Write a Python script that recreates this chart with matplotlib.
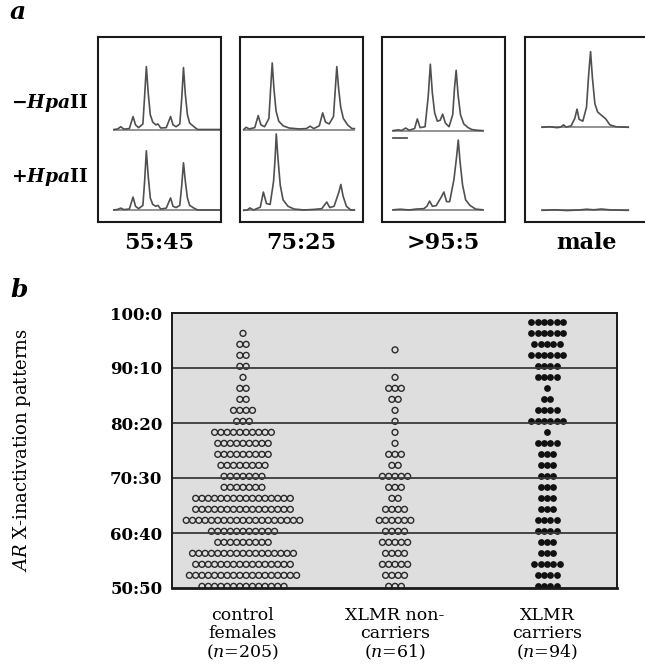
"""
X-inactivation figure: (a) AR methylation traces, (b) dot plot of X-inactivation patterns.
"""

import matplotlib
matplotlib.use("Agg")
import matplotlib.pyplot as plt

plt.rcParams["font.family"] = "DejaVu Serif"
plt.rcParams["mathtext.fontset"] = "dejavuserif"

W, H = 645, 670

# ---- panel a: traces (x: position along trace, y: signal, 0-100 box units)
BOX_LABELS = ["55:45", "75:25", ">95:5", "male"]

B1_TOP_X = [13, 16, 18.5, 21, 25.5, 28.5, 30.5, 33, 36.5, 37.9, 39.3, 40.8, 42.5, 44.5, 47, 48.7, 51,
            55.5, 59, 61, 63.5, 66.5, 68.1, 69.5, 71, 72.7, 74.5, 78, 81, 100]
B1_TOP_Y = [50, 50.3, 51.5, 50.2, 50.5, 57, 52.5, 51, 53, 68, 84, 70, 58, 54, 52.5, 53, 50.8,
            51, 57, 52.5, 51.5, 53, 67, 83.5, 69, 58, 53.5, 51.5, 50, 50]
B1_BOT_X = B1_TOP_X
B1_BOT_Y = [6.5, 6.8, 7.5, 6.7, 7, 13.5, 8.5, 7.2, 9, 22, 38.5, 25, 13, 9.5, 8.5, 9, 7,
            7.5, 13, 8.5, 7.8, 9, 20, 32, 22, 13, 9, 7.5, 6.5, 6.5]

B2_TOP_X = [3, 5, 7.5, 12, 14.8, 17, 20, 23.5, 24.9, 26.2, 27.6, 29.3, 31.5, 35, 40, 48, 54, 57, 60,
            64.5, 67.2, 69.5, 72.5, 76, 77.4, 78.7, 80.2, 81.9, 84, 87.5, 91, 93]
B2_TOP_Y = [50, 51.2, 50.3, 51, 57.5, 52.5, 51.5, 56, 72, 86, 72, 60, 54.5, 52, 50.8, 50.3, 50.5,
            51.8, 50.5, 52, 59, 54, 53, 57, 71, 84, 72, 62, 56, 52.5, 50.5, 50.5]
B2_BOT_X = [3, 6, 8, 11, 16.5, 19, 21.5, 24.5, 27.3, 28.5, 29.5, 30.8, 32.7, 35, 39, 44, 52, 60,
            66.5, 70.5, 73, 76.5, 80.3, 82, 83.8, 86.5, 90, 93]
B2_BOT_Y = [6.3, 6.5, 7.6, 6.5, 8, 16.2, 10, 9.5, 22, 34, 47.6, 35, 20, 12, 8.5, 7, 6.5, 6.8,
            7.2, 10.8, 7.8, 8.5, 16, 20.3, 14, 8.5, 6.5, 6.5]

B3_TOP_X = [9, 13, 16, 19.3, 22, 26.5, 28.7, 31, 35, 37.6, 39.3, 40.9, 42.8, 45, 47.3, 49.3, 51.5,
            54.5, 57.5, 58.9, 60.3, 61.8, 63.8, 66.5, 70, 73, 77, 82]
B3_TOP_Y = [49.4, 49.8, 49.5, 50.8, 49.6, 50.5, 55.7, 51, 51.5, 68, 85.3, 70, 59, 54.5, 55, 58.3,
            53.5, 51.5, 58, 72, 82, 69, 58, 53, 51, 50, 49.6, 49.4]
B3_BOT_X = [9, 15, 22, 28, 34, 36.5, 38.7, 41, 44, 47.8, 50.3, 52.5, 55, 58.5, 60.6, 62, 63.4,
            65.5, 68, 71.5, 76, 82]
B3_BOT_Y = [6.6, 6.9, 6.5, 7, 7.2, 8.5, 11.3, 8.5, 8.8, 13, 16.2, 11, 11, 23, 35, 44.3, 33,
            20, 12, 9, 7, 6.6]
B3_BAR_X = [9.3, 20.7]
B3_BAR_Y = [45.4, 45.4]

B4_TOP_X = [14, 20, 26, 29, 31.3, 33.5, 37.5, 40.5, 42.3, 44, 47, 50, 51.8, 53.3, 54.8, 56.8, 59,
            62.5, 65.7, 69, 74, 79, 84]
B4_TOP_Y = [51.2, 51.5, 51, 51.3, 52.5, 51.3, 52, 56, 61, 55.5, 54.5, 62, 80, 92.1, 78, 64, 59.5,
            57.5, 55.7, 52.5, 51.5, 51.3, 51.2]
B4_BOT_X = [14, 24, 34, 44, 50, 56, 62, 70, 78, 84]
B4_BOT_Y = [6.3, 6.6, 6.2, 6.5, 6.9, 6.6, 7.0, 6.5, 6.4, 6.3]

TRACES = [
    [(B1_TOP_X, B1_TOP_Y), (B1_BOT_X, B1_BOT_Y)],
    [(B2_TOP_X, B2_TOP_Y), (B2_BOT_X, B2_BOT_Y)],
    [(B3_TOP_X, B3_TOP_Y), (B3_BOT_X, B3_BOT_Y)],
    [(B4_TOP_X, B4_TOP_Y), (B4_BOT_X, B4_BOT_Y)],
]

# ---- panel b: dot counts per 2% row
GROUP_LABELS = ["control\nfemales\n($n$=205)", "XLMR non-\ncarriers\n($n$=61)",
                "XLMR\ncarriers\n($n$=94)"]
ROWS = list(range(50, 100, 2))
CONTROL_COUNTS = [14, 18, 16, 17, 9, 11, 19, 16, 16, 7, 7, 8, 9, 9, 10,
                  3, 4, 2, 2, 1, 2, 2, 2, 1, 0]
NONCARRIER_ROWS = [50, 52, 54, 56, 58, 60, 62, 64, 66, 68, 70, 72, 74, 76, 78,
                   80, 82, 84, 86, 88, 93]
NONCARRIER_COUNTS = [3, 4, 5, 4, 5, 4, 6, 4, 2, 3, 5, 2, 3, 1, 1,
                     1, 1, 2, 3, 1, 1]
CARRIER_COUNTS = [4, 4, 5, 3, 3, 4, 4, 3, 3, 3, 3, 3, 3, 4, 1,
                  6, 4, 2, 1, 4, 4, 6, 5, 6, 6]
Y_TICKS = [50, 60, 70, 80, 90, 100]
Y_TICK_LABELS = ["50:50", "60:40", "70:30", "80:20", "90:10", "100:0"]

DOT_STEP = 0.0415   # horizontal spacing of dots, in category units
ROW_LIFT = 0.3      # dots sit just above their row value


def px_axes(fig, left, top, width, height):
    return fig.add_axes([left / W, 1 - (top + height) / H, width / W, height / H])


def dot_positions(center, rows, counts):
    xs, ys = [], []
    for v, n in zip(rows, counts):
        for i in range(n):
            xs.append(center + (i - (n - 1) / 2) * DOT_STEP)
            ys.append(v + ROW_LIFT)
    return xs, ys


fig = plt.figure(figsize=(W / 100, H / 100), dpi=100)

# panel a
box_lefts = [98, 240, 382, 525]
for i, left in enumerate(box_lefts):
    bx = px_axes(fig, left, 37, 123, 185)
    bx.set_xlim(0, 100)
    bx.set_ylim(0, 100)
    bx.set_xticks([])
    bx.set_yticks([])
    for s in bx.spines.values():
        s.set_linewidth(1.5)
        s.set_color("#1a1a1a")
    for tx, ty in TRACES[i]:
        bx.plot([tx[0], tx[-1]], [ty[0], ty[0]], color="#8a8a8a", lw=1.3)
        bx.plot(tx, ty, color="#505050", lw=1.2)
    if i == 2:
        bx.plot(B3_BAR_X, B3_BAR_Y, color="#555555", lw=1.3)
    fig.text((left + 61.5) / W, 1 - 243 / H, BOX_LABELS[i], ha="center", va="center",
             fontsize=16, fontweight="semibold")

fig.text(88 / W, 1 - 103 / H, r"$\mathbf{-}\mathbfit{Hpa}\mathbf{II}$", ha="right",
         va="center", fontsize=13.5)
fig.text(88 / W, 1 - 177 / H, r"$\mathbf{+}\mathbfit{Hpa}\mathbf{II}$", ha="right",
         va="center", fontsize=13.5)
fig.text(10 / W, 1 - 12 / H, "a", fontsize=18, fontweight="bold", fontstyle="italic",
         va="center")
fig.text(10 / W, 1 - 290 / H, "b", fontsize=18, fontweight="bold", fontstyle="italic",
         va="center")

# panel b
ax = px_axes(fig, 172, 313, 445, 275)
ax.set_facecolor("#dedede")
ax.set_xlim(-0.467, 2.46)
ax.set_ylim(50, 100)
for v in Y_TICKS[1:-1]:
    ax.axhline(v, color="#3a3a3a", lw=1.3, zorder=3)

cx, cy = dot_positions(0, ROWS, CONTROL_COUNTS)
ax.scatter(cx, cy, s=18, facecolors="none", edgecolors="#2a2a2a", linewidths=1.0,
           zorder=2, clip_on=True)
nx, ny = dot_positions(1, NONCARRIER_ROWS, NONCARRIER_COUNTS)
ax.scatter(nx, ny, s=18, facecolors="none", edgecolors="#2a2a2a", linewidths=1.0,
           zorder=2, clip_on=True)
kx, ky = dot_positions(2, ROWS, CARRIER_COUNTS)
ax.scatter(kx, ky, s=24, color="#111111", linewidths=0, zorder=2, clip_on=True)

ax.set_yticks(Y_TICKS)
ax.set_yticklabels(Y_TICK_LABELS, fontsize=12, fontweight="semibold")
ax.set_xticks([0, 1, 2])
ax.set_xticklabels(GROUP_LABELS, fontsize=12.5, linespacing=1.05)
ax.tick_params(axis="both", length=0)
ax.tick_params(axis="y", pad=7)
ax.tick_params(axis="x", pad=14)
for s in ax.spines.values():
    s.set_linewidth(1.4)
    s.set_color("#1a1a1a")
    s.set_zorder(4)
ax.spines["bottom"].set_linewidth(2)

fig.text(22 / W, 1 - 450 / H, r"$\mathit{AR}$ X-inactivation patterns", rotation=90,
         ha="center", va="center", fontsize=13)

fig.savefig("out.png", dpi=100)
